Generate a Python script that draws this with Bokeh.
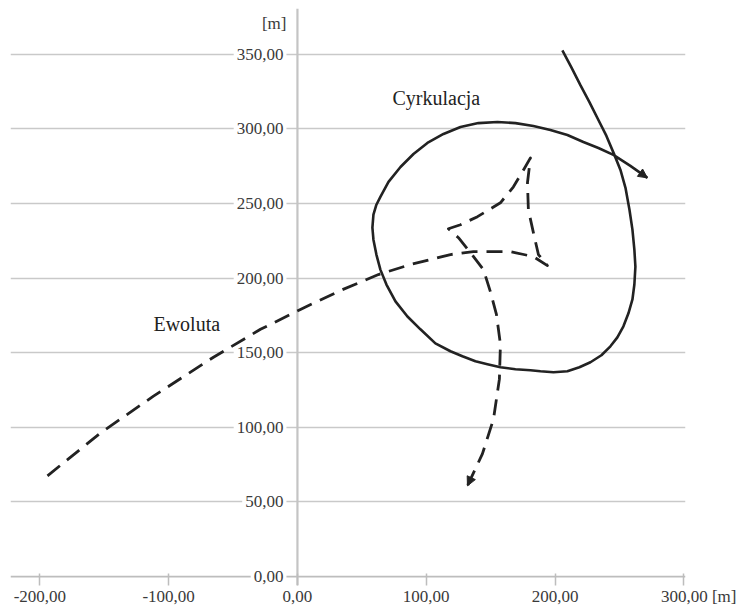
from bokeh.plotting import figure
from bokeh.models import Range1d, FixedTicker, Span, Arrow, NormalHead, ColumnDataSource
from bokeh.core.properties import value
from bokeh.embed import file_html
from bokeh.resources import INLINE

# ---- data (metres) ----
x_ticks = [-200, -100, 0, 100, 200, 300]
y_ticks = [0, 50, 100, 150, 200, 250, 300, 350]

# Cyrkulacja (turning circle trajectory)
circ_x = [205.7, 212.7, 219.7, 226.7, 232.9, 239.9, 246.1, 250.8, 254.7, 257.8,
          260.1, 261.6, 262.4, 261.6, 260.1, 257.0, 253.1, 248.4, 243.0, 236.0,
          227.5, 218.9, 209.6, 198.8, 188.7, 180.9, 169.3, 157.6, 147.5, 138.2,
          128.1, 118.8, 107.1, 95.5, 85.4, 76.1, 69.1, 64.4, 61.3, 59.0,
          58.2, 59.0, 61.3, 64.4, 70.7, 80.0, 90.1, 100.9, 113.4, 126.6,
          140.5, 155.3, 169.3, 183.2, 196.4, 209.6, 222.0, 233.7, 245.3, 258.5,
          271.7]
circ_y = [352.7, 341.3, 329.3, 318.0, 307.3, 295.3, 282.6, 272.5, 260.5, 245.8,
          232.5, 219.1, 207.7, 195.7, 185.7, 176.4, 167.7, 160.3, 154.3, 148.3,
          143.6, 140.3, 137.6, 136.9, 137.6, 138.3, 138.9, 140.3, 142.3, 144.3,
          147.6, 151.0, 156.3, 165.7, 174.3, 184.4, 195.7, 205.7, 215.8, 225.8,
          233.8, 242.5, 249.2, 254.5, 264.5, 274.5, 283.2, 290.6, 296.6, 301.3,
          303.9, 304.6, 303.9, 301.9, 299.3, 295.9, 291.2, 287.2, 282.6, 275.2,
          267.2]

# Ewoluta (evolute of the trajectory)
evol_x = [-194.1, -153.0, -111.8, -65.2, -28.7, 2.3, 33.4, 62.9, 87.7, 118.8,
          136.6, 165.4, 183.2, 194.1, 187.1, 183.2, 179.3, 178.6, 180.9, 175.5,
          167.7, 157.6, 139.8, 126.6, 117.2, 125.0, 134.3, 144.4, 149.8, 154.5,
          157.6, 156.8, 152.2, 143.6, 132.0]
evol_y = [67.5, 96.2, 120.9, 147.0, 165.7, 179.0, 191.7, 202.4, 209.1, 215.8,
          217.8, 217.8, 214.4, 208.4, 215.8, 230.5, 245.8, 263.9, 280.6, 272.5,
          261.2, 250.5, 241.2, 235.8, 233.1, 227.1, 217.1, 205.7, 191.0, 175.7,
          155.6, 132.3, 105.5, 82.2, 60.8]

unit = "[m]"


def fmt(v):
    return f"{v:.2f}".replace(".", ",")


FONT = "Liberation Serif"
TXT = "#3a3a3a"
GRID = "#c9c9c9"
INK = "#222222"
NB = "\u00a0"

p = figure(width=740, height=608, output_backend="svg", toolbar_location=None,
           x_range=Range1d(-222.8, 301.3), y_range=Range1d(-6.0, 380.7),
           y_axis_location=None, min_border_left=10, min_border_right=55,
           min_border_top=8, min_border_bottom=18)
p.outline_line_color = None
p.background_fill_color = "white"
p.border_fill_color = "white"

# horizontal grid
p.xgrid.visible = False
p.ygrid.ticker = FixedTicker(ticks=y_ticks[1:])
p.ygrid.grid_line_color = GRID
p.ygrid.grid_line_width = 1.6

# axis lines as spans under the glyphs
p.add_layout(Span(location=0, dimension="width", line_color="#bdbdbd",
                  line_width=1.8, level="underlay"))
p.add_layout(Span(location=0, dimension="height", line_color="#c4c4c4",
                  line_width=2.2, level="underlay"))

# x axis (tick labels); the last one carries the unit
labels = {t: fmt(t) for t in x_ticks}
labels[x_ticks[-1]] = NB * 7 + fmt(x_ticks[-1]) + NB + unit
ax = p.xaxis[0]
ax.ticker = FixedTicker(ticks=x_ticks)
ax.major_label_overrides = labels
ax.axis_line_color = None
ax.major_tick_line_color = "#bdbdbd"
ax.major_tick_line_width = 1.5
ax.major_tick_in = 12
ax.major_tick_out = 0
ax.minor_tick_line_color = None
ax.major_label_standoff = 1
ax.major_label_text_font = FONT
ax.major_label_text_font_size = "17px"
ax.major_label_text_color = TXT

# y tick labels drawn next to the y axis at x = 0
ysrc = ColumnDataSource(dict(x=[0] * len(y_ticks), y=y_ticks,
                             t=[fmt(v) for v in y_ticks]))
p.text(x="x", y="y", text="t", source=ysrc, x_offset=-11,
       text_align="right", text_baseline="middle",
       text_font=value(FONT), text_font_size="17px", text_color=TXT,
       background_fill_color="white", padding=3)

# y unit label
p.text(x=[0], y=[370.5], text=[unit], x_offset=-11, text_align="right",
       text_baseline="middle", text_font=value(FONT), text_font_size="17px",
       text_color=TXT)

# curves
p.line(circ_x, circ_y, line_color=INK, line_width=2.6, line_join="round")
p.line(evol_x, evol_y, line_color=INK, line_width=2.8, line_dash="16 9",
       line_join="round")

# arrow heads
p.add_layout(Arrow(end=NormalHead(size=9, fill_color=INK, line_color=INK),
                   x_start=circ_x[-2], y_start=circ_y[-2],
                   x_end=circ_x[-1], y_end=circ_y[-1], line_alpha=0))
p.add_layout(Arrow(end=NormalHead(size=9, fill_color=INK, line_color=INK),
                   x_start=evol_x[-2], y_start=evol_y[-2],
                   x_end=evol_x[-1], y_end=evol_y[-1], line_alpha=0))

# curve names
p.text(x=[73.8], y=[320.6], text=["Cyrkulacja"], text_align="left",
       text_baseline="middle", text_font=value(FONT), text_font_size="20px",
       text_color=INK)
p.text(x=[-111.8], y=[169.0], text=["Ewoluta"], text_align="left",
       text_baseline="middle", text_font=value(FONT), text_font_size="20px",
       text_color=INK)

open("out.html", "w").write(file_html(p, INLINE))
